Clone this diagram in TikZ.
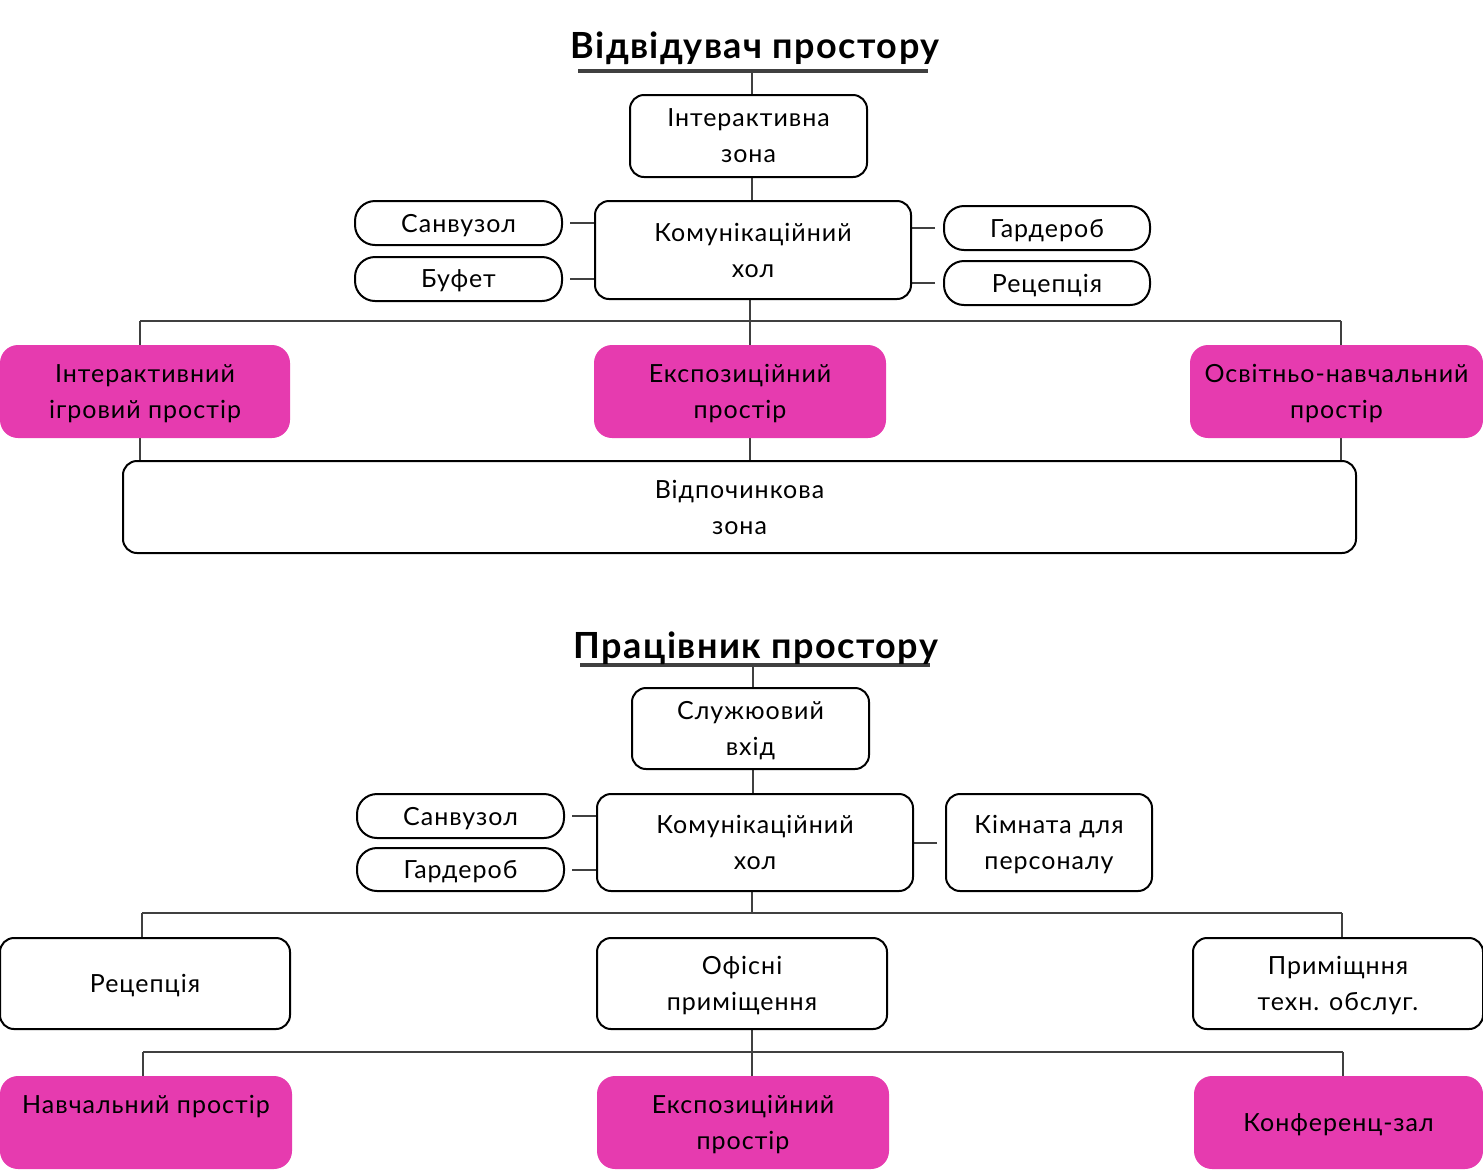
\documentclass[tikz,border=0pt]{standalone}
\usepackage{fontspec}
\setmainfont{Lato}[LetterSpace=4]
\usetikzlibrary{backgrounds}
\definecolor{zonepink}{HTML}{E63BAF}
\definecolor{linkgray}{HTML}{404040}
\begin{document}
\begin{tikzpicture}[line join=round, line cap=round, x=0.5pt, y=-0.5pt]
	\tikzset{every node/.style={font=\fontsize{12.5}{18}\selectfont, align=center, inner sep=1pt, text depth=0pt}}
	\tikzset{room/.style={draw, line width=1pt, rounded corners=7pt}}
	\tikzset{zone/.style={fill=zonepink, rounded corners=9pt}}
	\tikzset{link/.style={draw=linkgray, line width=1pt}}
	\tikzset{heading/.style={font=\fontsize{18}{20}\bfseries\selectfont, anchor=base}}
	\useasboundingbox (0,0) rectangle (1483,1169);
	% visitor
	\node[heading] (t1) at (755,58) {Відвідувач простору};
	\coordinate (u1l) at (578,71);
	\coordinate (u1r) at (928,71);
	\coordinate (u1) at (752,73);
	\node[room, minimum width=118.5pt, minimum height=41pt] (inter) at (748.5,136) {Інтерактивна\\зона};
	\node[room, minimum width=158pt, minimum height=49pt] (hall1) at (753,250) {Комунікаційний\\хол};
	\node[room, rounded corners=10pt, minimum width=103.5pt, minimum height=22pt] (san1) at (458.5,223) {Санвузол};
	\node[room, rounded corners=10pt, minimum width=103.5pt, minimum height=22pt] (buf1) at (458.5,279) {Буфет};
	\node[room, rounded corners=10pt, minimum width=103pt, minimum height=22pt] (gard1) at (1047,228) {Гардероб};
	\node[room, rounded corners=10pt, minimum width=103pt, minimum height=22pt] (rec1) at (1047,283) {Рецепція};
	\node[zone, minimum width=145pt, minimum height=46.5pt] (play) at (145,391.5) {Інтерактивний\\ігровий простір};
	\node[zone, minimum width=146pt, minimum height=46.5pt] (expo1) at (740,391.5) {Експозиційний\\простір};
	\node[zone, minimum width=146.5pt, minimum height=46.5pt] (edu) at (1336.5,391.5) {Освітньо-навчальний\\простір};
	\node[room, minimum width=616.5pt, minimum height=46pt] (rest) at (739.5,507) {Відпочинкова\\зона};
	\coordinate (b1l) at (140,321);
	\coordinate (b1) at (750,321);
	\coordinate (b1r) at (1341,321);
	% staff
	\node[heading] (t2) at (756,658) {Працівник простору};
	\coordinate (u2l) at (580,665);
	\coordinate (u2r) at (930,665);
	\coordinate (u2) at (753,667);
	\node[room, minimum width=118.5pt, minimum height=40.5pt] (staff) at (750.5,728.5) {Служюовий\\вхід};
	\node[room, minimum width=158pt, minimum height=48.5pt] (hall2) at (755,842.5) {Комунікаційний\\хол};
	\node[room, rounded corners=10pt, minimum width=103.5pt, minimum height=22pt] (san2) at (460.5,816) {Санвузол};
	\node[room, rounded corners=10pt, minimum width=103.5pt, minimum height=21.5pt] (gard2) at (460.5,869.5) {Гардероб};
	\node[room, minimum width=103pt, minimum height=48.5pt] (pers) at (1049,842.5) {Кімната для\\персоналу};
	\node[room, minimum width=145pt, minimum height=45.5pt] (rec2) at (145,983.5) {Рецепція};
	\node[room, minimum width=145pt, minimum height=45.5pt] (off) at (742,983.5) {Офісні\\приміщення};
	\node[room, minimum width=145pt, minimum height=45.5pt] (tech) at (1338,983.5) {Приміщння\\техн. обслуг.};
	\node[zone, minimum width=146pt, minimum height=46.5pt] (learn) at (146,1122.5) {Навчальний простір\\\mbox{}};
	\node[zone, minimum width=146pt, minimum height=46.5pt] (expo2) at (743,1122.5) {Експозиційний\\простір};
	\node[zone, minimum width=144.5pt, minimum height=46.5pt] (conf) at (1338.5,1122.5) {Конференц-зал};
	\coordinate (b2l) at (142,913);
	\coordinate (b2) at (752,913);
	\coordinate (b2r) at (1342,913);
	\coordinate (b3l) at (143,1052);
	\coordinate (b3) at (752,1052);
	\coordinate (b3r) at (1343,1052);
	\begin{scope}[on background layer]
		\draw[line width=2pt, linkgray, line cap=butt] (u1l) -- (u1r);
		\draw[link] (u1) -- (u1 |- inter.north);
		\draw[link] (inter.south -| u1) -- (hall1.north -| u1);
		\draw[link] ([xshift=3.5pt]san1.east) -- (san1.east -| hall1.west);
		\draw[link] ([xshift=3.5pt]buf1.east) -- (buf1.east -| hall1.west);
		\draw[link] ([xshift=-4pt]gard1.west) -- (gard1.west -| hall1.east);
		\draw[link] ([xshift=-4pt]rec1.west) -- (rec1.west -| hall1.east);
		\draw[link] (b1l) -- (b1r);
		\draw[link] (hall1.south -| b1) -- (b1 |- rest.north);
		\draw[link] (b1l) -- (b1l |- rest.north);
		\draw[link] (b1r) -- (b1r |- rest.north);
		\draw[line width=2pt, linkgray, line cap=butt] (u2l) -- (u2r);
		\draw[link] (u2) -- (u2 |- staff.north);
		\draw[link] (staff.south -| u2) -- (hall2.north -| u2);
		\draw[link] ([xshift=3.5pt]san2.east) -- (san2.east -| hall2.west);
		\draw[link] ([xshift=3.5pt]gard2.east) -- (gard2.east -| hall2.west);
		\draw[link] ([xshift=-4pt]pers.west) -- (pers.west -| hall2.east);
		\draw[link] (b2l) -- (b2r);
		\draw[link] (hall2.south -| b2) -- (b2);
		\draw[link] (b2l) -- (b2l |- rec2.north);
		\draw[link] (b2r) -- (b2r |- tech.north);
		\draw[link] (b3l) -- (b3r);
		\draw[link] (off.south -| b3) -- (b3 |- expo2.north);
		\draw[link] (b3l) -- (b3l |- learn.north);
		\draw[link] (b3r) -- (b3r |- conf.north);
	\end{scope}
\end{tikzpicture}
\end{document}
